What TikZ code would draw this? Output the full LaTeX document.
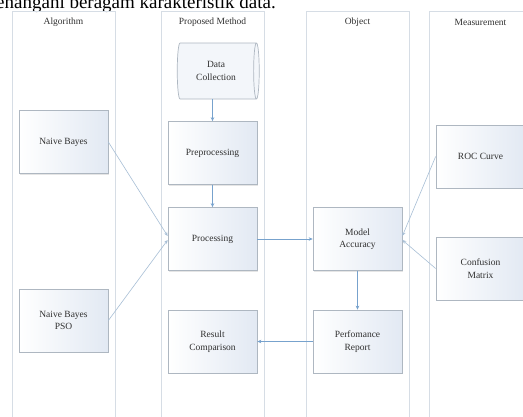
\documentclass[tikz,border=0pt]{standalone}
\usepackage{fontspec}
\setmainfont{Liberation Serif}
\usetikzlibrary{shapes.geometric,arrows.meta,shadows}
\definecolor{lanegray}{HTML}{D6DDE5}
\definecolor{boxgray}{HTML}{AEB7C1}
\definecolor{boxblue}{HTML}{E2E9F3}
\definecolor{linkblue}{HTML}{77A2CD}
\definecolor{softblue}{HTML}{A8BFD6}
\definecolor{txtgray}{HTML}{303030}
\tikzset{
  lane/.style={draw=lanegray, line width=0.8pt},
  plain/.style={draw=boxgray, line width=0.7pt, align=center, text=txtgray,
    font=\fontsize{9.5}{12.5}\selectfont},
  box/.style={plain, left color=white, right color=boxblue,
    minimum width=89pt, minimum height=63pt,
    drop shadow={shadow xshift=1pt, shadow yshift=-1pt, opacity=0.2}},
  link/.style={draw=linkblue, line width=0.6pt, -{Stealth[length=4pt,width=3.5pt]}},
  soft/.style={link, draw=softblue},
}
\begin{document}
\begin{tikzpicture}[x=1pt, y=-1pt]
  \useasboundingbox (0,0) rectangle (523,416);
  \clip (0,0) rectangle (523,416);
  \fill[white] (0,0) rectangle (523,416);
  % line of the page text above the figure
  \node[anchor=base east, inner sep=0pt, font=\fontsize{19}{22}\selectfont] (pageline) at (276,8) {menangani beragam karakteristik data.};
  % swim lanes
  \foreach \x/\label [count=\i] in {12/Algorithm, 161/Proposed Method, 306/Object, 429/Measurement}
  {
    \draw[lane] (\x,11) rectangle (\x+103,425);
    \node[text=txtgray, font=\fontsize{9.5}{12}\selectfont] (lane\i) at (\x+51.5,22) {\label};
  }
  % boxes
  \node[plain, cylinder, fill=boxblue!40, shape aspect=0.22, minimum height=82pt, minimum width=56pt] (data) at (216,71) {Data\\Collection};
  \node[box] (prep) at (212.5,153) {Preprocessing};
  \node[box] (proc) at (212.5,239) {Processing};
  \node[box] (result) at (212.5,341.5) {Result\\Comparison};
  \node[box] (nb) at (63.5,142) {Naive Bayes};
  \node[box] (nbpso) at (63.5,320.5) {Naive Bayes\\PSO};
  \node[box] (acc) at (357.5,239) {Model\\Accuracy};
  \node[box] (perf) at (357.5,341.5) {Perfomance\\Report};
  \node[box] (roc) at (480.5,156.5) {ROC Curve};
  \node[box] (conf) at (480.5,268.5) {Confusion\\Matrix};
  % connectors
  \draw[link] (prep.north |- data.south) -- (prep.north);
  \draw[link] (prep) -- (proc);
  \draw[soft] (nb.east) -- ([yshift=3pt]proc.west);
  \draw[soft] (nbpso.east) -- ([yshift=-1pt]proc.west);
  \draw[link] (proc) -- (acc);
  \draw[soft] (roc.west) -- ([yshift=3pt]acc.east);
  \draw[soft] (conf.west) -- ([yshift=-1pt]acc.east);
  \draw[link] (acc) -- (perf);
  \draw[link] (perf) -- (result);
\end{tikzpicture}
\end{document}
